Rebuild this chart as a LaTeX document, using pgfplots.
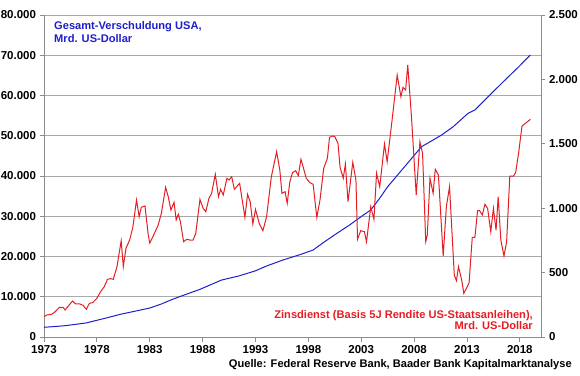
\documentclass[border=0pt]{standalone}
\usepackage{pgfplots}
\pgfplotsset{compat=1.18}
\usepackage{fontspec}
\setmainfont{Liberation Sans}
\definecolor{myblue}{RGB}{30,30,205}
\definecolor{myred}{RGB}{228,30,35}
\definecolor{gridgray}{RGB}{170,170,170}
\definecolor{axisgray}{RGB}{140,140,140}
\newcommand{\lbl}{\fontsize{11.5}{13}\selectfont\bfseries}
\newcommand{\txt}{\fontsize{11.1}{13}\selectfont\bfseries}

\begin{document}
\begin{tikzpicture}
\path[use as bounding box] (0pt,0pt) rectangle (580pt,375pt);
\pgfplotsset{
  common/.style={
    at={(44pt,38pt)}, anchor=south west,
    scale only axis, width=497pt, height=322pt,
    xmin=1973, xmax=2020,
    axis line style={-, axisgray, line width=0.8pt},
    tick style={axisgray, line width=0.8pt},
    tick align=outside, major tick length=4.5pt,
    tick label style={font=\lbl},
    /pgf/number format/assume math mode=true,
  }
}
\begin{axis}[
  common,
  ymin=0, ymax=80000,
  axis x line*=bottom, axis y line*=left,
  xtick={1973,1978,...,2018},
  ytick={0,10000,...,80000},
  ymajorgrids, grid style={gridgray, line width=0.8pt},
  yticklabel style={/pgf/number format/.cd, fixed, 1000 sep={.}},
  xticklabel style={/pgf/number format/.cd, 1000 sep={}},
  scaled y ticks=false,
]
\addplot[myblue, line width=1pt] coordinates {
(1973.0,2410) (1974.0,2600) (1975.0,2810) (1976.0,3150) (1977.0,3500) (1978.0,4150)
(1979.0,4800) (1980.2,5630) (1981.5,6350) (1983.0,7200) (1984.1,8200) (1985.0,9200)
(1986.0,10190) (1987.75,11840) (1989.8,14160) (1991.4,15150) (1992.95,16400)
(1994.05,17640) (1995.6,19130) (1997.3,20540) (1998.45,21610) (1999.4,23430)
(2000.7,25760) (2001.9,27830) (2002.9,29740) (2003.9,31550) (2004.7,34300)
(2005.5,37340) (2007.1,42310) (2008.7,47280) (2009.8,48940) (2010.6,50190)
(2011.7,52250) (2013.1,55580) (2013.75,56400) (2015.0,59700) (2016.6,63850)
(2017.8,66900) (2019.0,70060)
};
\end{axis}
\begin{axis}[
  common,
  ymin=0, ymax=2500,
  axis x line=none, axis y line*=right,
  ytick={0,500,...,2500},
  yticklabel style={/pgf/number format/.cd, fixed, 1000 sep={.}},
  scaled y ticks=false,
]
\addplot[myred, line width=1pt] coordinates {
(1973.0,157.5) (1973.25,170.6) (1973.7,175.9) (1974.0,191.6) (1974.45,230.3) (1974.8,230.3)
(1975.0,209.7) (1975.3,240.6) (1975.7,279.4) (1976.0,256.3) (1976.4,256.3) (1976.7,245.9)
(1977.0,215.0) (1977.3,261.6) (1977.6,266.6) (1978.0,300.3) (1978.35,351.6) (1978.7,390.6)
(1979.0,447.8) (1979.3,452.8) (1979.55,447.8) (1979.9,545.6) (1980.3,747.8) (1980.5,545.6)
(1980.75,688.4) (1981.1,753.1) (1981.4,851.6) (1981.75,1063.8) (1982.0,934.0) (1982.2,1006.9)
(1982.55,1017.2) (1982.85,796.9) (1983.0,729.7) (1983.3,778.8) (1983.8,869.7) (1984.1,960.3)
(1984.5,1162.2) (1984.75,1089.4) (1985.0,985.9) (1985.3,1045.6) (1985.5,908.4) (1985.7,952.5)
(1985.9,895.3) (1986.2,740.0) (1986.5,758.4) (1986.8,753.1) (1987.1,753.1) (1987.35,805.0)
(1987.75,1069.0) (1988.05,999.0) (1988.3,973.0) (1988.6,1077.0) (1988.85,1115.6) (1989.2,1263.0)
(1989.5,1089.4) (1989.7,1146.6) (1989.95,1102.5) (1990.3,1232.2) (1990.5,1219.0) (1990.75,1244.7)
(1991.0,1146.6) (1991.5,1193.0) (1992.0,929.0) (1992.25,1107.8) (1992.5,1050.0) (1992.75,877.0)
(1993.0,991.0) (1993.35,882.5) (1993.7,825.3) (1994.05,934.0) (1994.5,1244.7) (1995.0,1438.8)
(1995.3,1296.6) (1995.5,1115.6) (1995.8,1128.4) (1996.0,1037.8) (1996.25,1206.0) (1996.5,1276.0)
(1996.8,1291.0) (1997.05,1252.8) (1997.3,1379.7) (1997.5,1322.5) (1997.8,1232.2) (1998.15,1198.0)
(1998.45,1185.6) (1998.8,929.0) (1999.1,1063.8) (1999.45,1309.4) (1999.8,1387.5) (2000.0,1550.3)
(2000.3,1560.6) (2000.5,1555.3) (2000.8,1503.8) (2001.0,1317.5) (2001.3,1232.2) (2001.5,1343.0)
(2001.75,1050.6) (2002.2,1356.0) (2002.5,1219.0) (2002.65,758.4) (2002.95,825.3) (2003.3,817.5)
(2003.5,740.0) (2003.9,1011.6) (2004.2,913.8) (2004.45,1271.0) (2004.75,1166.9) (2005.2,1498.4)
(2005.45,1361.0) (2005.9,1671.6) (2006.4,2034.0) (2006.75,1865.6) (2006.95,1938.4) (2007.2,1917.5)
(2007.4,2111.9) (2007.75,1710.6) (2008.2,1102.5) (2008.55,1516.6) (2008.8,1426.0) (2009.1,740.0)
(2009.25,791.9) (2009.5,1232.2) (2009.8,1115.6) (2010.0,1301.9) (2010.3,1257.8) (2010.75,628.8)
(2011.05,1011.6) (2011.35,1166.9) (2011.8,481.3) (2012.0,437.2) (2012.2,545.6) (2012.5,442.5)
(2012.7,339.0) (2012.95,378.0) (2013.2,421.6) (2013.5,774.0) (2013.75,774.0) (2014.0,980.6)
(2014.2,980.6) (2014.45,947.2) (2014.7,1030.3) (2014.95,999.0) (2015.25,817.5) (2015.5,999.0)
(2015.75,830.6) (2015.95,1089.4) (2016.2,753.1) (2016.5,628.8) (2016.75,740.0) (2017.05,1250.0)
(2017.4,1250.0) (2017.6,1276.0) (2017.9,1438.8) (2018.2,1638.0) (2018.6,1663.8) (2019.0,1690.0)
};
\end{axis}
\node[anchor=base west, inner sep=0, text=myblue, font=\txt] at (54pt,345pt) {Gesamt-Verschuldung USA,};
\node[anchor=base west, inner sep=0, text=myblue, font=\txt] at (54pt,332pt) {Mrd. US-Dollar};
\node[anchor=base east, inner sep=0, text=myred, font=\txt] at (533pt,57pt) {Zinsdienst (Basis 5J Rendite US-Staatsanleihen),};
\node[anchor=base east, inner sep=0, text=myred, font=\txt] at (533pt,46pt) {Mrd. US-Dollar};
\node[anchor=base east, inner sep=0, text=black, font=\txt] at (572pt,8pt) {Quelle: Federal Reserve Bank, Baader Bank Kapitalmarktanalyse};
\end{tikzpicture}
\end{document}
